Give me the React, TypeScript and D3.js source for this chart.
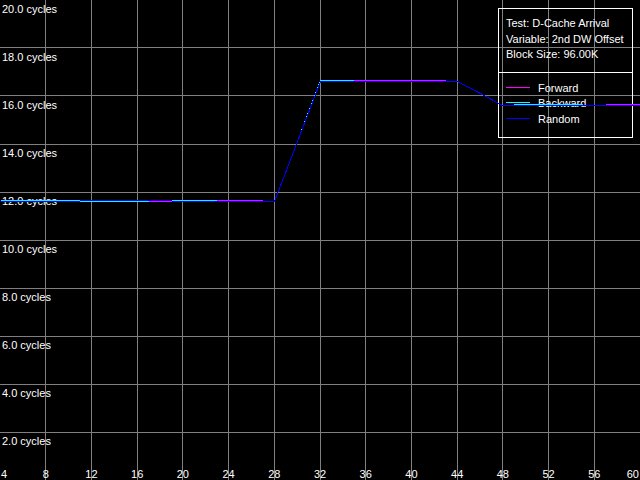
import React from "react";
import * as d3 from "d3";

const W = 640;
const H = 480;

const xValues = [4, 6, 8, 10, 12, 14, 16, 18, 20, 22, 24, 26, 28, 30, 32, 34, 36, 38, 40, 42, 44, 46, 48, 50, 52, 54, 56, 58, 60];

const randomValues = [11.6, 11.6, 11.6, 11.6, 11.65, 11.65, 11.65, 11.65, 11.6, 11.6, 11.6, 11.6, 11.6, 14.1, 16.6, 16.6, 16.6, 16.6, 16.6, 16.6, 16.6, 16.1, 15.6, 15.6, 15.6, 15.6, 15.6, 15.6, 15.6];
const backwardValues = [11.65, 11.65, 11.65, 11.65, 11.6, 11.6, 11.6, 11.65, 11.65, 11.65, 11.6, 11.6, 11.6, 14.12, 16.65, 16.65, 16.6, 16.6, 16.6, 16.6, 16.6, 16.1, 15.6, 15.65, 15.65, 15.65, 15.6, 15.6, 15.6];
const forwardValues = [11.6, 11.6, 11.6, 11.6, 11.6, 11.6, 11.6, 11.6, 11.6, 11.65, 11.65, 11.65, 11.6, 14.1, 16.6, 16.65, 16.65, 16.65, 16.65, 16.65, 16.6, 16.1, 15.6, 15.6, 15.6, 15.6, 15.6, 15.65, 15.65];

const seriesNames = ["Forward", "Backward", "Random"];
const seriesColors = ["#ff00ff", "#00ffff", "#0000ff"];
const seriesData = [forwardValues, backwardValues, randomValues];

const xTicks = [4, 8, 12, 16, 20, 24, 28, 32, 36, 40, 44, 48, 52, 56, 60];
const yTicks = [2, 4, 6, 8, 10, 12, 14, 16, 18, 20];

const infoLines = ["Test: D-Cache Arrival", "Variable: 2nd DW Offset", "Block Size: 96.00K"];

const FONT = "'Liberation Sans', Arial, sans-serif";

export default function App() {
  const x = d3.scaleLinear().domain([4, 60]).range([0, W]);
  const y = d3.scaleLinear().domain([0, 20]).range([H, 0]);

  const line = d3
    .line<number>()
    .x((_, i) => Math.floor(x(xValues[i])) + 0.5)
    .y((d) => Math.floor(y(d)) + 0.5);

  return (
    <svg
      width={W}
      height={H}
      style={{ position: "fixed", left: 0, top: 0, background: "#000", display: "block" }}
    >
      <rect x={0} y={0} width={W} height={H} fill="#000" />
      {xTicks.slice(1, -1).map((t) => (
        <line
          key={"gx" + t}
          x1={Math.floor(x(t)) + 0.5}
          x2={Math.floor(x(t)) + 0.5}
          y1={0}
          y2={H}
          stroke="#808080"
          strokeWidth={1}
          shapeRendering="crispEdges"
        />
      ))}
      {yTicks.slice(0, -1).map((t) => (
        <line
          key={"gy" + t}
          x1={0}
          x2={W}
          y1={Math.floor(y(t)) + 0.5}
          y2={Math.floor(y(t)) + 0.5}
          stroke="#808080"
          strokeWidth={1}
          shapeRendering="crispEdges"
        />
      ))}
      {yTicks.map((t) => (
        <text key={"yl" + t} x={2} y={y(t) + 13} fill="#fff" fontFamily={FONT} fontSize={11}>
          {t.toFixed(1)} cycles
        </text>
      ))}
      {xTicks.map((t, i) => (
        <text
          key={"xl" + t}
          x={i === 0 ? 1 : i === xTicks.length - 1 ? W - 1 : x(t)}
          y={478}
          fill="#fff"
          fontFamily={FONT}
          fontSize={11}
          textAnchor={i === 0 ? "start" : i === xTicks.length - 1 ? "end" : "middle"}
        >
          {t}
        </text>
      ))}
      <rect x={498.5} y={8.5} width={134} height={129} fill="none" stroke="#fff" strokeWidth={1} shapeRendering="crispEdges" />
      <line x1={498} x2={633} y1={72.5} y2={72.5} stroke="#fff" strokeWidth={1} shapeRendering="crispEdges" />
      {infoLines.map((s, i) => (
        <text key={"info" + i} x={506} y={27 + i * 15.5} fill="#fff" fontFamily={FONT} fontSize={11}>
          {s}
        </text>
      ))}
      {seriesNames.map((n, i) => (
        <g key={"leg" + n}>
          <line
            x1={506}
            x2={530}
            y1={Math.floor(87 + i * 15.5) + 0.5}
            y2={Math.floor(87 + i * 15.5) + 0.5}
            stroke={seriesColors[i]}
            strokeWidth={1}
            shapeRendering="crispEdges"
          />
          <text x={538} y={91.5 + i * 15.5} fill="#fff" fontFamily={FONT} fontSize={11}>
            {n}
          </text>
        </g>
      ))}
      {seriesData.map((vals, i) => (
        <path
          key={"s" + i}
          d={line(vals) || ""}
          fill="none"
          stroke={seriesColors[i]}
          strokeWidth={1}
          shapeRendering="crispEdges"
        />
      ))}
    </svg>
  );
}
